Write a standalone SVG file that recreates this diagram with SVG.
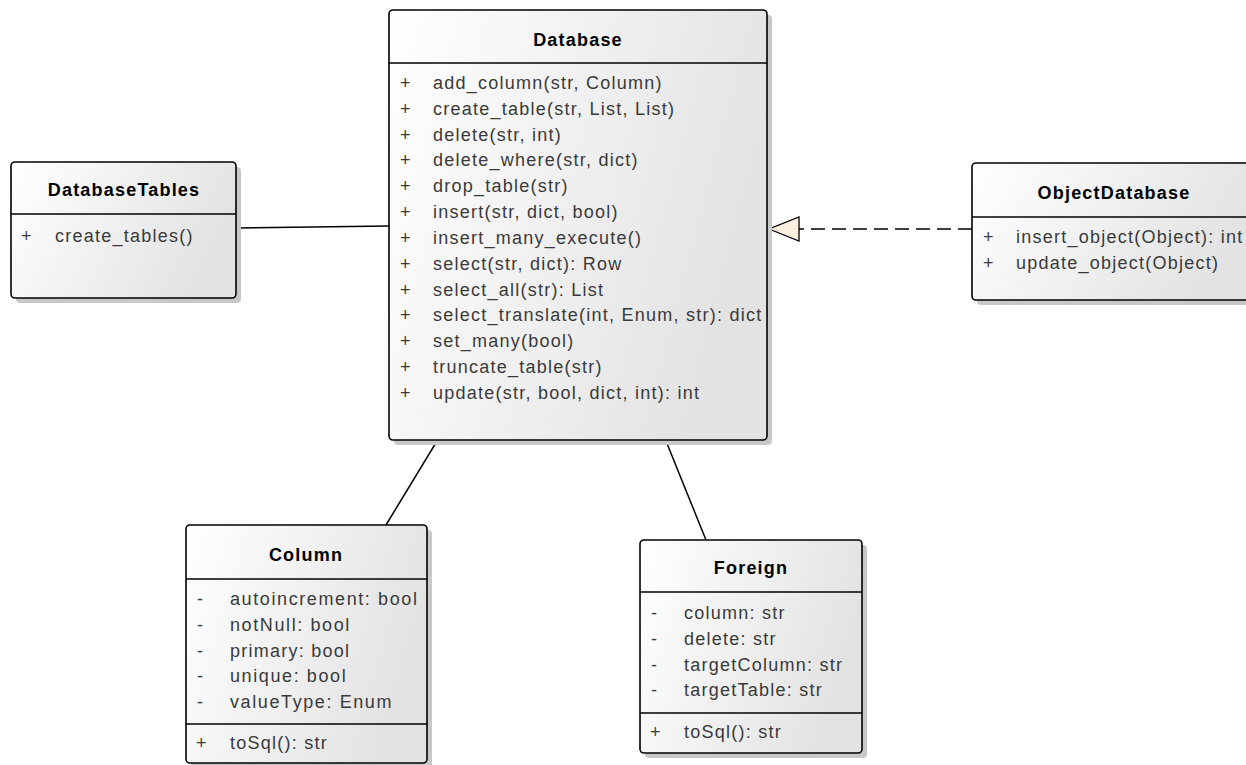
<svg xmlns="http://www.w3.org/2000/svg" width="1246" height="765" viewBox="0 0 1246 765">
<defs>
<linearGradient id="g" x1="0" y1="0" x2="1" y2="0.3">
<stop offset="0" stop-color="#ffffff"/>
<stop offset="1" stop-color="#e3e3e3"/>
</linearGradient>
<marker id="tri" markerWidth="36" markerHeight="28" refX="32" refY="14" orient="auto" markerUnits="userSpaceOnUse">
<path d="M32,14 L2,2 L2,26 Z" fill="#fcefdd" stroke="#000" stroke-width="1.3"/>
</marker>
</defs>
<style>
.box{fill:url(#g);stroke:#000;stroke-width:1.6}
.sh{fill:#c8c8c8}
.sep{stroke:#000;stroke-width:1.3}
.t{font-family:"Liberation Sans",Arial,sans-serif;font-size:18px;font-weight:bold;fill:#000;text-anchor:middle;letter-spacing:1.2px}
.m{font-family:"Liberation Sans",Arial,sans-serif;font-size:18px;fill:#3a3a3a;letter-spacing:1.25px}
.w{letter-spacing:1.6px}
.c{stroke:#000;stroke-width:1.5;fill:none}
</style>
<rect width="1246" height="765" fill="#fff"/>

<g id="connectors">
<line class="c" x1="236" y1="228" x2="389" y2="226"/>
<line class="c" x1="437" y1="441" x2="386" y2="525"/>
<line class="c" x1="666" y1="441" x2="706" y2="540"/>
<line class="c" x1="972" y1="229" x2="769" y2="229" stroke-dasharray="14,7" marker-end="url(#tri)"/>
</g>

<g id="Database">
<rect class="sh" x="394" y="15" width="378" height="430" rx="4"/>
<rect class="box" x="389" y="10" width="378" height="430" rx="4"/>
<line class="sep" x1="389" y1="63" x2="767" y2="63"/>
<text class="t" x="578" y="46">Database</text>
<g class="m">
<text x="400" y="89">+</text><text x="433" y="89">add_column(str, Column)</text>
<text x="400" y="115">+</text><text x="433" y="115">create_table(str, List, List)</text>
<text x="400" y="141">+</text><text x="433" y="141">delete(str, int)</text>
<text x="400" y="166">+</text><text x="433" y="166">delete_where(str, dict)</text>
<text x="400" y="192">+</text><text x="433" y="192">drop_table(str)</text>
<text x="400" y="218">+</text><text x="433" y="218">insert(str, dict, bool)</text>
<text x="400" y="244">+</text><text x="433" y="244">insert_many_execute()</text>
<text x="400" y="270">+</text><text x="433" y="270">select(str, dict): Row</text>
<text x="400" y="296">+</text><text x="433" y="296">select_all(str): List</text>
<text x="400" y="321">+</text><text x="433" y="321">select_translate(int, Enum, str): dict</text>
<text x="400" y="347">+</text><text x="433" y="347">set_many(bool)</text>
<text x="400" y="373">+</text><text x="433" y="373">truncate_table(str)</text>
<text x="400" y="399">+</text><text x="433" y="399">update(str, bool, dict, int): int</text>
</g>
</g>

<g id="DatabaseTables">
<rect class="sh" x="16" y="167" width="225" height="136" rx="4"/>
<rect class="box" x="11" y="162" width="225" height="136" rx="4"/>
<line class="sep" x1="11" y1="214" x2="236" y2="214"/>
<text class="t" x="124" y="196">DatabaseTables</text>
<g class="m">
<text x="21" y="242">+</text><text x="55" y="242">create_tables()</text>
</g>
</g>

<g id="ObjectDatabase">
<rect class="sh" x="977" y="168" width="280" height="137" rx="4"/>
<rect class="box" x="972" y="163" width="280" height="137" rx="4"/>
<line class="sep" x1="972" y1="217" x2="1252" y2="217"/>
<text class="t" x="1114" y="199">ObjectDatabase</text>
<g class="m">
<text x="983" y="243">+</text><text x="1016" y="243">insert_object(Object): int</text>
<text x="983" y="269">+</text><text x="1016" y="269">update_object(Object)</text>
</g>
</g>

<g id="Column">
<rect class="sh" x="191" y="530" width="241" height="238" rx="4"/>
<rect class="box" x="186" y="525" width="241" height="238" rx="4"/>
<line class="sep" x1="186" y1="579" x2="427" y2="579"/>
<line class="sep" x1="186" y1="724" x2="427" y2="724"/>
<text class="t" x="306" y="561">Column</text>
<g class="m">
<text x="197" y="605">-</text><text class="w" x="230" y="605">autoincrement: bool</text>
<text x="197" y="631">-</text><text class="w" x="230" y="631">notNull: bool</text>
<text x="197" y="657">-</text><text x="230" y="657">primary: bool</text>
<text x="197" y="682">-</text><text class="w" x="230" y="682">unique: bool</text>
<text x="197" y="708">-</text><text class="w" x="230" y="708">valueType: Enum</text>
<text x="196" y="749">+</text><text x="230" y="749">toSql(): str</text>
</g>
</g>

<g id="Foreign">
<rect class="sh" x="645" y="545" width="222" height="213" rx="4"/>
<rect class="box" x="640" y="540" width="222" height="213" rx="4"/>
<line class="sep" x1="640" y1="592" x2="862" y2="592"/>
<line class="sep" x1="640" y1="713" x2="862" y2="713"/>
<text class="t" x="751" y="574">Foreign</text>
<g class="m">
<text x="651" y="619">-</text><text x="684" y="619">column: str</text>
<text x="651" y="645">-</text><text x="684" y="645">delete: str</text>
<text x="651" y="671">-</text><text x="684" y="671">targetColumn: str</text>
<text x="651" y="696">-</text><text x="684" y="696">targetTable: str</text>
<text x="650" y="738">+</text><text x="684" y="738">toSql(): str</text>
</g>
</g>
</svg>
